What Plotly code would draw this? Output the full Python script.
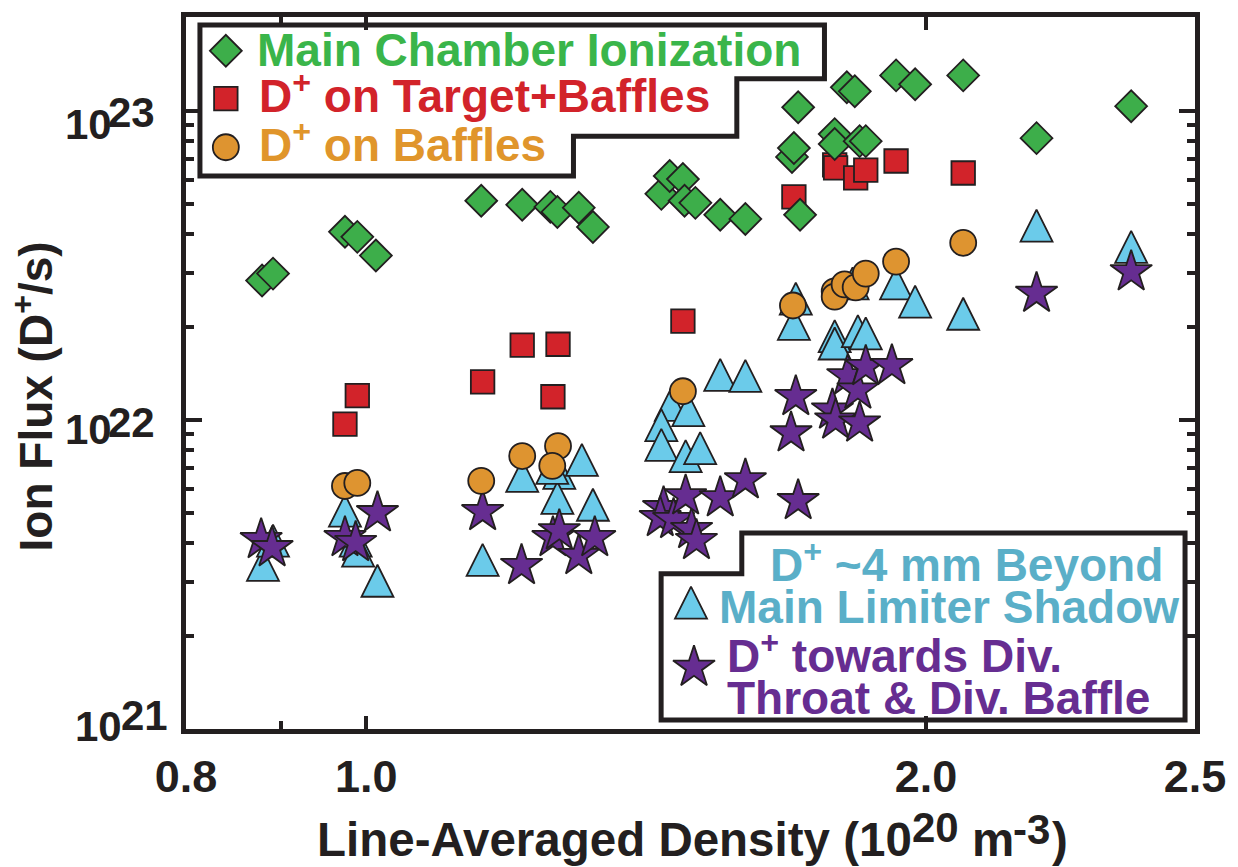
import numpy as np
import plotly.graph_objects as go

# ---------------------------------------------------------------- data
# Line-averaged density (1e20 m^-3) and ion flux (D+/s) for each population

dens_main = [0.879, 0.891, 0.974, 0.989, 1.012, 1.153, 1.213, 1.256, 1.267, 1.301, 1.324,
             1.441, 1.456, 1.480, 1.483, 1.503, 1.550, 1.599, 1.694, 1.698, 1.707, 1.711,
             1.786, 1.786, 1.813, 1.831, 1.842, 1.856, 1.927, 1.973, 2.094, 2.293, 2.578]
flux_main = [2.83e22, 2.98e22, 4.07e22, 3.92e22, 3.41e22, 5.13e22, 4.98e22, 4.90e22, 4.72e22,
             4.87e22, 4.22e22, 5.40e22, 6.17e22, 6.03e22, 5.13e22, 5.05e22, 4.62e22, 4.48e22,
             7.11e22, 7.60e22, 1.030e23, 4.62e22, 8.43e22, 7.83e22, 1.195e23, 1.160e23,
             8.00e22, 8.00e22, 1.306e23, 1.222e23, 1.306e23, 8.18e22, 1.038e23]

dens_target = [0.974, 0.989, 1.155, 1.213, 1.268, 1.260, 1.480, 1.698, 1.786, 1.788,
               1.833, 1.856, 1.927, 2.094]
flux_target = [9.71e21, 1.20e22, 1.33e22, 1.75e22, 1.76e22, 1.19e22, 2.09e22, 5.28e22,
               6.70e22, 6.55e22, 6.08e22, 6.45e22, 6.90e22, 6.31e22]

dens_baffles = [0.974, 0.989, 1.153, 1.213, 1.268, 1.259, 1.480, 1.696, 1.786, 1.786,
                1.808, 1.833, 1.856, 1.927, 2.094]
flux_baffles = [6.12e21, 6.26e21, 6.36e21, 7.65e21, 8.24e21, 7.11e21, 1.24e22, 2.35e22,
                2.61e22, 2.51e22, 2.75e22, 2.69e22, 2.98e22, 3.26e22, 3.75e22]

dens_shadow = [0.880, 0.891, 0.974, 0.987, 0.990, 1.014, 1.155, 1.213, 1.270, 1.267,
               1.306, 1.324, 1.259, 1.458, 1.490, 1.441, 1.441, 1.485, 1.512, 1.550,
               1.599, 1.702, 1.698, 1.786, 1.786, 1.838, 1.856, 1.826, 1.927, 1.973,
               2.094, 2.293, 2.578]
flux_shadow = [3.40e21, 4.07e21, 5.09e21, 4.07e21, 3.78e21, 3.02e21, 3.53e21, 6.60e21,
               6.75e21, 5.60e21, 7.43e21, 5.32e21, 7.00e21, 1.12e22, 1.077e22, 9.63e21,
               8.31e21, 7.65e21, 8.12e21, 1.40e22, 1.39e22, 2.475e22, 2.05e22, 1.87e22,
               1.77e22, 1.94e22, 1.91e22, 2.77e22, 2.77e22, 2.42e22, 2.21e22, 4.26e22,
               3.64e22]

dens_throat = [0.878, 0.890, 0.974, 0.987, 1.014, 1.155, 1.212, 1.260, 1.270, 1.301,
               1.327, 1.445, 1.439, 1.463, 1.496, 1.505, 1.485, 1.550, 1.599, 1.707,
               1.702, 1.692, 1.781, 1.788, 1.815, 1.838, 1.856, 1.842, 1.917, 2.293, 2.578]
flux_throat = [4.10e21, 3.86e21, 4.16e21, 4.01e21, 5.01e21, 5.05e21, 3.38e21, 4.16e21,
               4.38e21, 3.64e21, 4.16e21, 5.20e21, 4.83e21, 4.76e21, 4.42e21, 4.07e21,
               5.68e21, 5.60e21, 6.40e21, 5.48e21, 1.19e22, 9.08e21, 1.077e22, 1.00e22,
               1.39e22, 1.25e22, 1.49e22, 9.78e21, 1.50e22, 2.57e22, 3.02e22]

# axis extents and tick labels
X_MIN, X_MAX = 0.8, 2.79
Y_MIN_EXP, Y_MAX_EXP = 21, 23.305
x_tick_vals = [X_MIN, 1.0, 2.0, X_MAX]
x_tick_text = ["0.8", "1.0", "2.0", "2.5"]
x_minor_vals = [0.9]
y_decades = [21, 22, 23]
y_minor_vals = [m * 10.0 ** e for e in (21, 22) for m in range(2, 10)]

# ---------------------------------------------------------------- style
FONT = "Liberation Sans, Arial, sans-serif"
INK = "#231f20"
GREEN, RED, ORANGE, CYAN, PURPLE = "#3dae4a", "#d2232a", "#de9430", "#6bcbea", "#662d91"
GREEN_TXT, RED_TXT, ORANGE_TXT, CYAN_TXT, PURPLE_TXT = "#3ab54a", "#d2232a", "#e0952b", "#5aafc8", "#662d91"

W_FIG, H_FIG = 1238, 867
L, R, T, B = 186, 1199, 13, 729          # plot-area edges in px
PW, PH = R - L, B - T


def px(xp):
    return (xp - L) / PW


def py(yp):
    return (B - yp) / PH


def mk(symbol, size, color, **extra):
    return dict(symbol=symbol, size=size, color=color,
                line=dict(color=INK, width=1.8), **extra)


# upward triangle with equal width and height, centred on the point
TRI = dict(symbol="arrow-down", angle=180, standoff=16)

MARKERS = {
    "main": mk("diamond", 24.5, GREEN),
    "target": mk("square", 23.5, RED),
    "baffles": mk("circle", 26, ORANGE),
    "shadow": dict(size=32, color=CYAN, line=dict(color=INK, width=1.8), **TRI),
    "throat": mk("star", 31.5, PURPLE),
}

fig = go.Figure()

# drawing order keeps circles over triangles and diamonds over squares
series = [
    ("shadow", dens_shadow, flux_shadow),
    ("throat", dens_throat, flux_throat),
    ("baffles", dens_baffles, flux_baffles),
    ("target", dens_target, flux_target),
    ("main", dens_main, flux_main),
]
for key, xs, ys in series:
    fig.add_trace(go.Scatter(x=xs, y=ys, mode="markers", marker=MARKERS[key],
                             hoverinfo="x+y", cliponaxis=False))

# legend swatches on an overlay axis spanning the plot area (0..1 both ways)
swatches = [("main", 226, 47), ("target", 226, 95), ("baffles", 226, 144),
            ("shadow", 693, 602), ("throat", 696, 667)]
for key, sx, sy in swatches:
    fig.add_trace(go.Scatter(x=[px(sx)], y=[py(sy)], xaxis="x2", yaxis="y2",
                             mode="markers", marker=MARKERS[key], hoverinfo="skip",
                             cliponaxis=False))


# stepped legend frames
def frame(points):
    d = "M " + " L ".join(f"{px(a):.5f},{py(b):.5f}" for a, b in points) + " Z"
    return dict(type="path", path=d, xref="paper", yref="paper",
                line=dict(color=INK, width=5), fillcolor="white", layer="below")


shapes = [
    frame([(200, 21), (827, 21), (827, 75), (739, 75), (739, 133), (575, 133),
           (575, 173), (200, 173)]),
    frame([(663, 720), (663, 573), (744, 573), (744, 532), (1189, 532), (1189, 720)]),
]


def ann(text, xp, yp, size, color, xanchor="left", yanchor="middle", angle=0):
    return dict(text=text, xref="paper", yref="paper", x=px(xp), y=py(yp),
                xanchor=xanchor, yanchor=yanchor, showarrow=False, textangle=angle,
                font=dict(family=FONT, size=size, color=color, weight="bold"))


annotations = [
    ann("Main Chamber Ionization", 255, 46, 46, GREEN_TXT),
    ann("D<sup>+</sup> on Target+Baffles", 257, 89, 46, RED_TXT),
    ann("D<sup>+</sup> on Baffles", 257, 139, 46, ORANGE_TXT),
    ann("D<sup>+</sup> ~4 mm Beyond", 770, 561, 46, CYAN_TXT),
    ann("Main Limiter Shadow", 719, 606, 46, CYAN_TXT),
    ann("D<sup>+</sup> towards Div.", 727, 653, 46, PURPLE_TXT),
    ann("Throat & Div. Baffle", 727, 698, 46, PURPLE_TXT),
    # axis titles
    ann("Line-Averaged Density (10", 917, 840, 47.5, INK, xanchor="right"),
    ann("20", 913, 828, 42, INK),
    ann("m", 973, 840, 47.5, INK),
    ann("-3", 1014, 830, 42, INK),
    ann(")", 1053, 840, 47.5, INK),
    ann("Ion Flux (D<sup>+</sup>/s)", 32, 395, 46, INK, xanchor="center", angle=-90),
]

# decade labels on the flux axis: mantissa and exponent set side by side
decade_offsets = {23: (114, 13, 106, 1), 22: (114, 9, 106, 2), 21: (124, -3, 119, -14)}
for e in y_decades:
    base_r, base_dy, exp_l, exp_dy = decade_offsets[e]
    for text, xp, dy, anchor in (("10", base_r, base_dy, "right"), (str(e), exp_l, exp_dy, "left")):
        annotations.append(dict(text=text, xref="paper", yref="y", x=px(xp), y=e,
                                yshift=-dy, xanchor=anchor, yanchor="middle", showarrow=False,
                                font=dict(family=FONT, size=42, color=INK, weight="bold")))

axis_common = dict(showline=True, linewidth=5, linecolor=INK, mirror="ticks", ticks="inside",
                   tickcolor=INK, tickwidth=4, showgrid=False, zeroline=False)

fig.update_layout(
    width=W_FIG, height=H_FIG,
    margin=dict(l=L, r=W_FIG - R, t=T, b=H_FIG - B, pad=0),
    paper_bgcolor="white", plot_bgcolor="white", showlegend=False,
    xaxis=dict(type="log", range=[np.log10(X_MIN), np.log10(X_MAX)],
               tickmode="array", tickvals=x_tick_vals, ticktext=x_tick_text, ticklen=13,
               tickfont=dict(family=FONT, size=45, color=INK, weight="bold"),
               ticklabelstandoff=4,
               minor=dict(tickmode="array", tickvals=x_minor_vals, ticks="inside",
                          ticklen=8, tickwidth=4, tickcolor=INK),
               **axis_common),
    yaxis=dict(type="log", range=[Y_MIN_EXP, Y_MAX_EXP],
               tickmode="array", tickvals=[10.0 ** e for e in y_decades],
               ticktext=["" for _ in y_decades], ticklen=16,
               minor=dict(tickmode="array", tickvals=y_minor_vals, ticks="inside",
                          ticklen=8, tickwidth=4, tickcolor=INK),
               **axis_common),
    xaxis2=dict(overlaying="x", anchor="y2", range=[0, 1], visible=False, fixedrange=True),
    yaxis2=dict(overlaying="y", anchor="x2", range=[0, 1], visible=False, fixedrange=True),
    shapes=shapes,
    annotations=annotations,
)

fig.write_html("out.html")
